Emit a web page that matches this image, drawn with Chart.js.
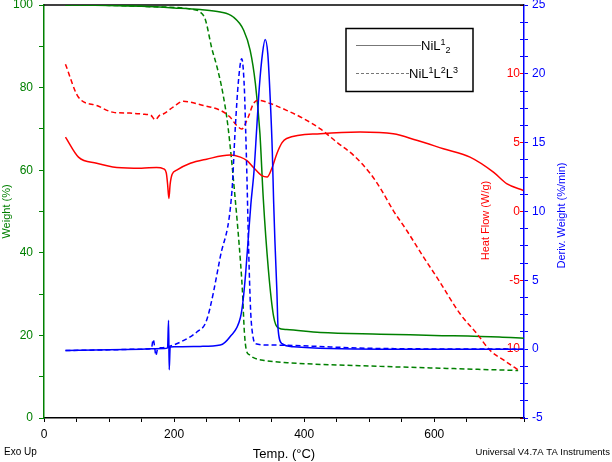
<!DOCTYPE html>
<html>
<head>
<meta charset="utf-8">
<script src="https://cdn.jsdelivr.net/npm/chart.js@4.4.1/dist/chart.umd.min.js"></script>
<style>
  html, body { margin: 0; padding: 0; background: #fff; }
  canvas { display: block; }
</style>
</head>
<body>
<canvas id="tga" width="612" height="462"></canvas>
<script>
// x axis labels
const tempLabels = [0, 200, 400, 600];

// Weight (%) - NiL1_2 (solid) and NiL1L2L3 (dashed)
const wtSolidT = [33, 100, 150, 200, 240, 271, 291, 307, 317, 325, 332, 337, 345, 353, 360, 373, 425, 517, 600, 700, 738];
const wtSolidV = [100, 99.9, 99.7, 99.3, 98.9, 98.3, 97.1, 93.9, 89, 81, 68.9, 53.5, 35.9, 24.6, 21.8, 21.4, 20.7, 20.3, 20.0, 19.6, 19.3];
const wtDashT = [33, 100, 163, 225, 240, 248, 258, 266, 275, 283, 294, 302, 305, 308, 311, 316, 322, 340, 374, 517, 600, 729];
const wtDashV = [100, 99.9, 99.6, 99, 98.3, 96.5, 89.5, 85, 78.6, 70.4, 53, 38, 31, 21, 16.5, 15.3, 14.6, 13.9, 13.4, 12.5, 12.1, 11.5];

// Heat flow (W/g)
const hfSolidT = [33, 53, 81, 112, 150, 173, 184, 188, 190, 192, 194, 197, 204, 225, 250, 286, 302, 312, 322, 335, 343, 350, 358, 366, 373, 425, 486, 537, 573, 614, 655, 691, 712, 737];
const hfSolidV = [5.4, 3.95, 3.5, 3.2, 3.15, 3.2, 3.1, 2.8, 2.0, 0.95, 2.0, 2.7, 3.0, 3.5, 3.8, 4.1, 3.95, 3.7, 3.2, 2.6, 2.5, 3.1, 4.2, 5.0, 5.3, 5.65, 5.77, 5.65, 5.17, 4.56, 3.95, 2.86, 2.0, 1.53];
const hfDashT = [33, 53, 81, 107, 132, 155, 164, 171, 178, 184, 199, 214, 245, 271, 286, 296, 304, 314, 322, 330, 348, 373, 399, 425, 450, 476, 502, 517, 537, 558, 582, 607, 640, 666, 686, 707, 732];
const hfDashV = [10.7, 8.3, 7.7, 7.2, 7.15, 7.06, 7.0, 6.67, 7.0, 7.1, 7.6, 8.0, 7.7, 7.35, 6.86, 6.26, 6.0, 6.86, 7.84, 8.08, 7.84, 7.35, 6.75, 6.0, 5.04, 4.08, 2.74, 1.7, 0.07, -1.4, -3.2, -5.0, -7.45, -8.9, -10.1, -10.8, -11.6];

// Deriv. weight (%/min)
const dwSolidT = [33, 100, 150, 185, 190, 191.5, 192.5, 194, 200, 240, 271, 286, 302, 306, 310, 314, 318, 323, 327, 331, 336, 340, 344, 348, 351, 353, 355, 358, 360, 366, 384, 517, 738];
const dwSolidV = [-0.1, -0.05, 0, 0.05, 0.1, 2.1, -1.5, 0.15, 0.17, 0.2, 0.3, 0.9, 2.3, 3.5, 5.5, 8, 10.5, 13, 16, 19, 21.5, 22.5, 21.5, 18, 14.4, 10.8, 7.9, 4.3, 1.4, 0.4, 0.17, 0, 0];
const dwDashT = [33, 100, 150, 165, 168, 170, 172, 175, 180, 192, 209, 235, 250, 271, 289, 294, 299, 304, 308, 310, 312, 314, 316, 318, 321, 325, 348, 517, 738];
const dwDashV = [-0.1, -0.05, 0, 0.05, 0.7, 0.2, -0.45, 0.05, 0.1, 0.2, 0.5, 1.25, 2.1, 6.7, 11.5, 16, 19.5, 21.1, 19, 16, 12.5, 8.5, 5, 2.5, 1.0, 0.4, 0.3, 0.05, 0];

const GREEN = '#008000';
const RED = '#ff0000';
const BLUE = '#0000ff';
const FONT = "'Liberation Sans', Arial, Helvetica, sans-serif";

Chart.defaults.font.family = FONT;

function pts(t, v) {
    return t.map((x, i) => ({ x: x, y: v[i] }));
}

function series(label, t, v, color, axis, dashed) {
    return {
        label: label,
        data: pts(t, v),
        borderColor: color,
        borderWidth: 1.5,
        borderDash: dashed ? [5, 3] : [],
        pointRadius: 0,
        fill: false,
        cubicInterpolationMode: 'monotone',
        yAxisID: axis
    };
}

const isMult = (v, m) => Math.abs(v / m - Math.round(v / m)) < 1e-6;

// vertical axes: no extra end padding so the plot runs from y=5 to y=418
function fitV(width) {
    return s => { s.width = width; s.paddingTop = 0; s.paddingBottom = 0; };
}

// extra text, top border and legend box
const extras = {
    id: 'extras',
    beforeDatasetsDraw(chart) {
        const { ctx, chartArea } = chart;
        ctx.save();
        ctx.strokeStyle = '#000';
        ctx.lineWidth = 1.5;
        ctx.beginPath();
        ctx.moveTo(chartArea.left, chartArea.top);
        ctx.lineTo(chartArea.right, chartArea.top);
        ctx.stroke();
        ctx.restore();
    },
    afterDraw(chart) {
        const { ctx, chartArea } = chart;
        const mid = (chartArea.top + chartArea.bottom) / 2;
        ctx.save();

        // rotated right-hand titles
        ctx.textAlign = 'center';
        ctx.textBaseline = 'middle';
        ctx.font = '11px ' + FONT;
        ctx.fillStyle = RED;
        ctx.save();
        ctx.translate(chartArea.right - 38, mid + 9);
        ctx.rotate(-Math.PI / 2);
        ctx.fillText('Heat Flow (W/g)', 0, 0);
        ctx.restore();
        ctx.fillStyle = BLUE;
        ctx.save();
        ctx.translate(chartArea.right + 38, mid + 4);
        ctx.rotate(-Math.PI / 2);
        ctx.fillText('Deriv. Weight (%/min)', 0, 0);
        ctx.restore();

        // footer notes
        ctx.fillStyle = '#000';
        ctx.font = '10px ' + FONT;
        ctx.textAlign = 'left';
        ctx.fillText('Exo Up', 4, 452);
        ctx.font = '9.5px ' + FONT;
        ctx.textAlign = 'right';
        ctx.fillText('Universal V4.7A TA Instruments', 610, 452);

        // legend
        ctx.strokeStyle = '#000';
        ctx.lineWidth = 1.5;
        ctx.strokeRect(346, 28.5, 127, 63);
        ctx.lineWidth = 1;
        ctx.strokeStyle = '#777';
        ctx.beginPath();
        ctx.moveTo(356, 45.5);
        ctx.lineTo(421, 45.5);
        ctx.stroke();
        ctx.setLineDash([3, 2]);
        ctx.beginPath();
        ctx.moveTo(356, 73.5);
        ctx.lineTo(409, 73.5);
        ctx.stroke();
        ctx.setLineDash([]);

        ctx.fillStyle = '#000';
        ctx.textAlign = 'left';
        ctx.textBaseline = 'alphabetic';
        const big = '13px ' + FONT, small = '9px ' + FONT;
        function rich(x, y, parts) {
            for (const p of parts) {
                ctx.font = p[1] === 0 ? big : small;
                ctx.fillText(p[0], x, y + p[1]);
                x += ctx.measureText(p[0]).width;
            }
        }
        rich(421, 50, [['NiL', 0], ['1', -5], ['2', 3]]);
        rich(409, 78, [['NiL', 0], ['1', -5], ['L', 0], ['2', -5], ['L', 0], ['3', -5]]);
        ctx.restore();
    }
};

new Chart(document.getElementById('tga'), {
    type: 'line',
    data: {
        datasets: [
            series('NiL1_2 deriv', dwSolidT, dwSolidV, BLUE, 'yD', false),
            series('NiL1L2L3 deriv', dwDashT, dwDashV, BLUE, 'yD', true),
            series('NiL1_2 heat flow', hfSolidT, hfSolidV, RED, 'yH', false),
            series('NiL1L2L3 heat flow', hfDashT, hfDashV, RED, 'yH', true),
            series('NiL1_2 weight', wtSolidT, wtSolidV, GREEN, 'y', false),
            series('NiL1L2L3 weight', wtDashT, wtDashV, GREEN, 'y', true)
        ]
    },
    options: {
        responsive: false,
        animation: false,
        devicePixelRatio: 1,
        layout: { padding: { top: 5, left: 0, right: 0, bottom: 0 } },
        plugins: { legend: { display: false }, tooltip: { enabled: false } },
        scales: {
            x: {
                type: 'linear', position: 'bottom', min: 0, max: 738,
                border: { color: '#000', width: 1.5 },
                grid: { drawOnChartArea: false, drawTicks: true, tickLength: 4, color: '#000' },
                ticks: {
                    stepSize: 50, autoSkip: false, maxRotation: 0, padding: 5,
                    color: '#000', font: { size: 12 },
                    callback: v => tempLabels.includes(v) ? String(v) : ''
                },
                title: { display: true, text: 'Temp. (°C)', color: '#000', font: { size: 13 }, padding: 0 },
                afterFit: s => { s.height = 44; s.paddingLeft = 0; s.paddingRight = 0; }
            },
            y: {
                position: 'left', min: 0, max: 100,
                border: { color: GREEN, width: 1.5 },
                grid: { drawOnChartArea: false, drawTicks: true, tickLength: 5, color: GREEN },
                ticks: {
                    stepSize: 10, autoSkip: false, padding: 6, color: GREEN, font: { size: 12 },
                    callback: v => isMult(v, 20) ? String(v) : ''
                },
                title: { display: true, text: 'Weight (%)', color: GREEN, font: { size: 11 }, padding: 0 },
                afterFit: fitV(44)
            },
            yH: {
                position: 'right', min: -15, max: 15,
                border: { display: false },
                grid: {
                    drawOnChartArea: false, drawTicks: true, tickLength: -4,
                    color: c => isMult(c.tick.value, 5) ? RED : BLUE
                },
                ticks: {
                    stepSize: 1.25, autoSkip: false, mirror: true, padding: -4, color: RED, font: { size: 12 },
                    callback: v => (isMult(v, 5) && Math.abs(v) <= 10) ? String(v) : ''
                },
                afterFit: fitV(0)
            },
            yD: {
                position: 'right', min: -5, max: 25,
                border: { color: BLUE, width: 1.5 },
                grid: { drawOnChartArea: false, drawTicks: true, tickLength: 4, color: BLUE },
                ticks: {
                    stepSize: 1.25, autoSkip: false, padding: 4, color: BLUE, font: { size: 12 },
                    callback: v => isMult(v, 5) ? String(v) : ''
                },
                afterFit: fitV(88)
            }
        }
    },
    plugins: [extras]
});
</script>
</body>
</html>
